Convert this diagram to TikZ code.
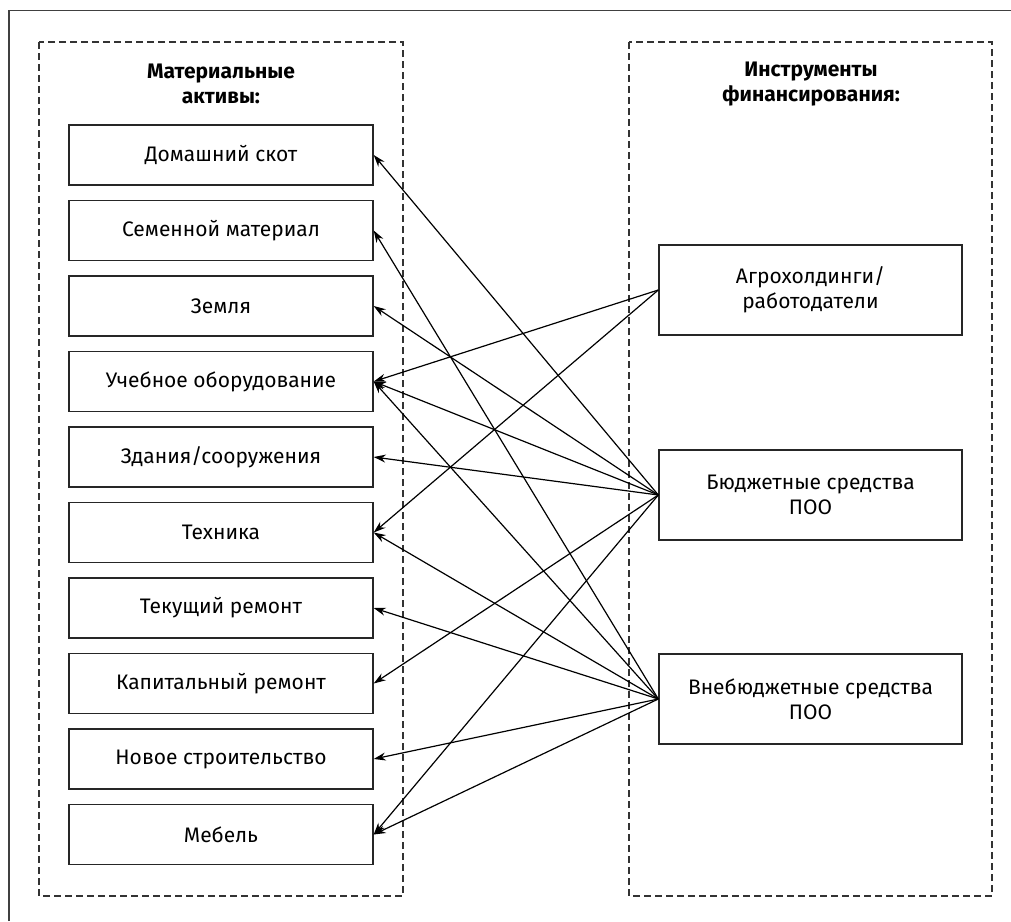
\documentclass[tikz,border=0pt]{standalone}
\usepackage{fontspec}
\setmainfont{Fira Sans}
\usepackage{tikz}
\usetikzlibrary{arrows.meta}
\tikzset{
box/.style = {rectangle, draw=black!85, line width=0.7pt, minimum width=#1,
              minimum height=30pt, inner sep=2pt, align=center,
              font=\fontsize{10.5}{12.5}\selectfont},
box/.default = 152pt % width of the asset boxes
}
\tikzset{
group/.style = {draw=black!80, line width=0.55pt, dash pattern=on 3.5pt off 2pt}
}
\tikzset{
head/.style = {align=center, font=\bfseries\fontsize{10.5}{12.5}\selectfont}
}

\begin{document}
\begin{tikzpicture}[x=0.5pt, y=-0.5pt, >={Stealth[length=6pt, width=4pt]}]
    \useasboundingbox (0,0) rectangle (1011,921);
    \draw[black!75, line width=0.8pt] (9,921) -- (9,10.5) -- (1011,10.5);

    \draw[group] (39,42) rectangle (403,896);
    \draw[group] (629,42) rectangle (992,896);

    \node[head] (assetHead) at (221,84) {Материальные\\активы:};
    \node[head] (fundHead) at (811,84) {Инструменты\\финансирования:};

    \node[box] (livestockBox) at (221,155) {Домашний скот};
    \node[box] (seedBox) at (221,230.5) {Семенной материал};
    \node[box] (landBox) at (221,306) {Земля};
    \node[box] (trainEquipBox) at (221,381.5) {Учебное оборудование};
    \node[box] (buildingBox) at (221,457) {Здания/сооружения};
    \node[box] (machineryBox) at (221,532.5) {Техника};
    \node[box] (currentRepBox) at (221,608) {Текущий ремонт};
    \node[box] (majorRepBox) at (221,683.5) {Капитальный ремонт};
    \node[box] (newBuildBox) at (221,759) {Новое строительство};
    \node[box] (furnitureBox) at (221,834.5) {Мебель};

    \node[box=151.5pt, minimum height=45pt] (agroBox) at (810.5,290) {Агрохолдинги/\\работодатели};
    \node[box=151.5pt, minimum height=45pt] (budgetBox) at (810.5,495) {Бюджетные средства\\ПОО};
    \node[box=151.5pt, minimum height=45pt] (extraBox) at (810.5,699) {Внебюджетные средства\\ПОО};

    % agro holdings
    \draw[->, line width=0.6pt] (agroBox.west) -- (trainEquipBox.east);
    \draw[->, line width=0.6pt] (agroBox.west) -- (machineryBox.east);

    % budget funds
    \draw[->, line width=0.6pt] (budgetBox.west) -- (livestockBox.east);
    \draw[->, line width=0.6pt] (budgetBox.west) -- (landBox.east);
    \draw[->, line width=0.6pt] (budgetBox.west) -- (trainEquipBox.east);
    \draw[->, line width=0.6pt] (budgetBox.west) -- (buildingBox.east);
    \draw[->, line width=0.6pt] (budgetBox.west) -- (majorRepBox.east);
    \draw[->, line width=0.6pt] (budgetBox.west) -- (furnitureBox.east);

    % extra-budget funds
    \draw[->, line width=0.6pt] (extraBox.west) -- (seedBox.east);
    \draw[->, line width=0.6pt] (extraBox.west) -- (trainEquipBox.east);
    \draw[->, line width=0.6pt] (extraBox.west) -- (machineryBox.east);
    \draw[->, line width=0.6pt] (extraBox.west) -- (currentRepBox.east);
    \draw[->, line width=0.6pt] (extraBox.west) -- (newBuildBox.east);
    \draw[->, line width=0.6pt] (extraBox.west) -- (furnitureBox.east);
\end{tikzpicture}
\end{document}
